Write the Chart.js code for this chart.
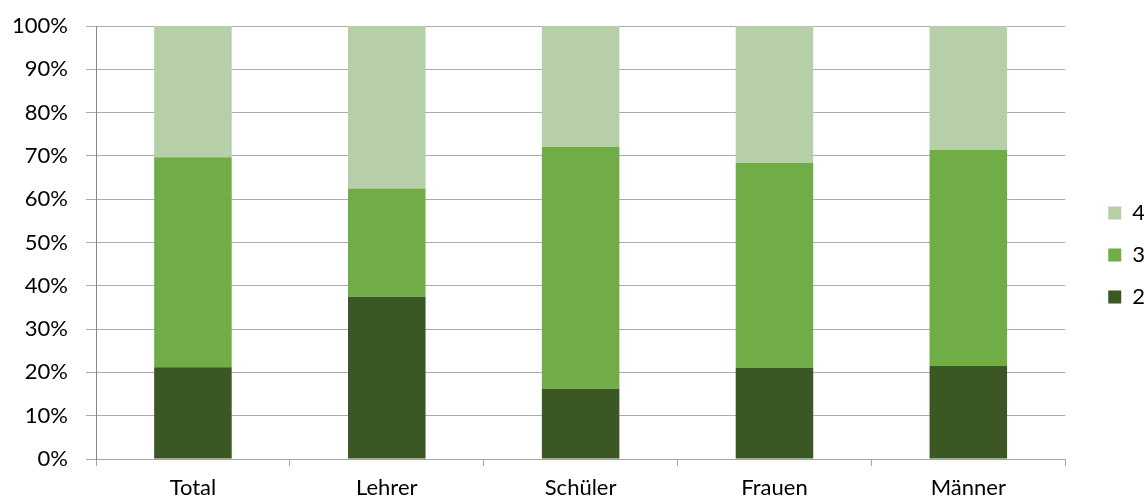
<!DOCTYPE html>
<html>
<head>
<meta charset="utf-8">
<script src="https://cdn.jsdelivr.net/npm/chart.js@4"></script>
<style>
  html, body { margin: 0; padding: 0; background: #fff; }
  #wrap { width: 1144px; height: 502px; }
</style>
</head>
<body>
<div id="wrap"><canvas id="chart"></canvas></div>
<script>
// categories and shares (percent) per answer group
var categories = ['Total', 'Lehrer', 'Schüler', 'Frauen', 'Männer'];
var seriesNames = ['2', '3', '4'];
var values2 = [21.2, 37.5, 16.2, 21.1, 21.5];
var values3 = [48.5, 25.0, 55.9, 47.3, 49.9];
var values4 = [30.3, 37.5, 27.9, 31.6, 28.6];
var yTicks = [0, 10, 20, 30, 40, 50, 60, 70, 80, 90, 100];

var colors = ['#3B5724', '#70AD47', '#B6CFA8'];
var font = { family: 'Lato, "Open Sans", sans-serif', size: 22 };

// move the legend block a bit (Excel puts it lower and further right)
var legendShift = {
  id: 'legendShift',
  afterLayout: function(c) {
    var lg = c.legend;
    var dx = (c.chartArea.right + 43) - (lg.left + lg.options.labels.padding);
    var dy = -9;
    lg.left += dx; lg.right += dx + 20;
    lg.top += dy; lg.bottom += dy;
  }
};

var ctx = document.getElementById('chart');
var chart = new Chart(ctx, {
  type: 'bar',
  data: {
    labels: categories,
    datasets: [values2, values3, values4].map(function(v, i) {
      return {
        label: seriesNames[i],
        data: v,
        backgroundColor: colors[i],
        borderWidth: 0,
        categoryPercentage: 1.0,
        barPercentage: 0.4
      };
    })
  },
  options: {
    responsive: true,
    maintainAspectRatio: false,
    animation: false,
    layout: { padding: { top: 26, left: 0, right: 12, bottom: 0 } },
    plugins: {
      tooltip: { enabled: false },
      legend: {
        position: 'right',
        reverse: true,
        labels: {
          boxWidth: 13,
          boxHeight: 13,
          padding: 20,
          color: '#000',
          font: font
        }
      }
    },
    scales: {
      x: {
        stacked: true,
        offset: true,
        afterFit: function(s) { s.height = 43; },
        grid: {
          offset: true,
          drawOnChartArea: false,
          drawTicks: true,
          tickLength: 7,
          color: '#A6A6A6'
        },
        border: { color: '#A6A6A6' },
        ticks: { color: '#000', font: font, padding: 9 }
      },
      y: {
        stacked: true,
        min: 0,
        max: 100,
        afterFit: function(s) {
          s.width = 96;
          s.paddingTop = 0;
          s.paddingBottom = 0;
        },
        afterBuildTicks: function(axis) {
          axis.ticks = yTicks.map(function(t) { return { value: t }; });
        },
        grid: { color: '#ACACAC', tickLength: 10 },
        border: { color: '#868686' },
        ticks: {
          color: '#000',
          font: font,
          padding: 18,
          callback: function(v) { return v + '%'; }
        }
      }
    }
  },
  plugins: [legendShift]
});
</script>
</body>
</html>
